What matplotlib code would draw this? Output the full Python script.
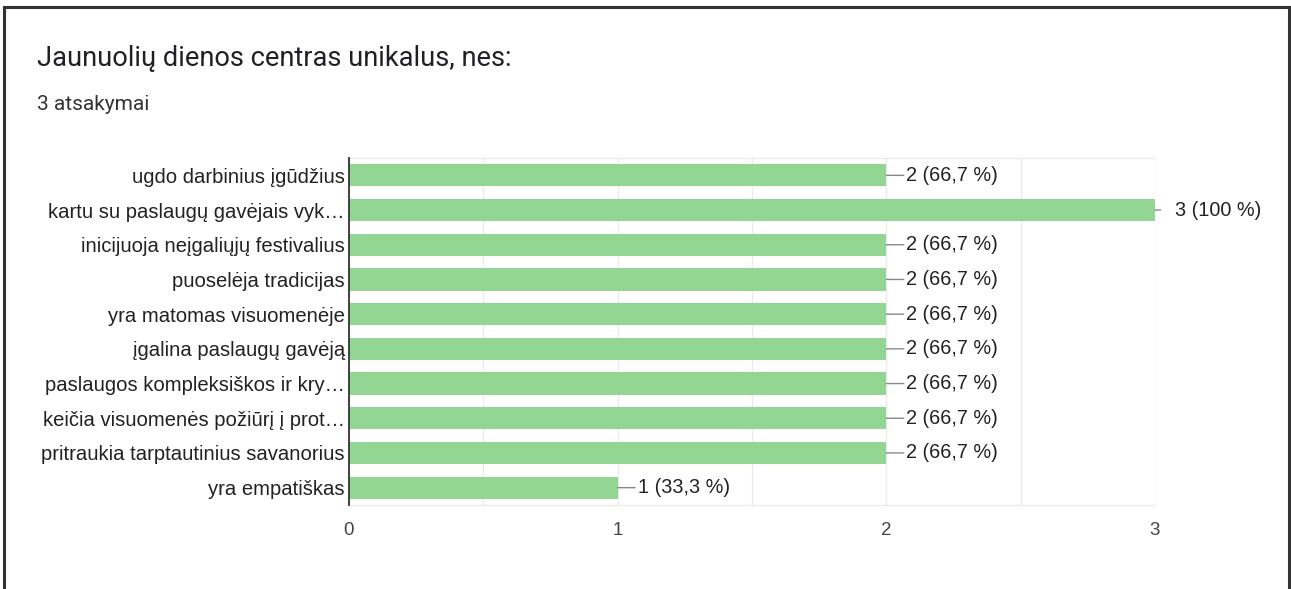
import matplotlib
matplotlib.use("Agg")
import matplotlib.pyplot as plt
from matplotlib.lines import Line2D

categories = [
    "ugdo darbinius įgūdžius",
    "kartu su paslaugų gavėjais vyk…",
    "inicijuoja neįgaliųjų festivalius",
    "puoselėja tradicijas",
    "yra matomas visuomenėje",
    "įgalina paslaugų gavėją",
    "paslaugos kompleksiškos ir kry…",
    "keičia visuomenės požiūrį į prot…",
    "pritraukia tarptautinius savanorius",
    "yra empatiškas",
]
values = [2, 3, 2, 2, 2, 2, 2, 2, 2, 1]
percent_labels = ["66,7", "100", "66,7", "66,7", "66,7", "66,7", "66,7", "66,7", "66,7", "33,3"]
x_ticks = [0, 1, 2, 3]
title = "Jaunuolių dienos centras unikalus, nes:"
subtitle = "3 atsakymai"

W, H = 1291, 589
fig = plt.figure(figsize=(W / 100, H / 100), dpi=100)
fig.patch.set_facecolor("white")

# outer frame (left, top, right)
fig.add_artist(Line2D([4 / W, 4 / W], [0, 1 - 7 / H], color="#333333", lw=2.2, transform=fig.transFigure))
fig.add_artist(Line2D([4 / W, 1290 / W], [1 - 7 / H, 1 - 7 / H], color="#333333", lw=2.2, transform=fig.transFigure))
fig.add_artist(Line2D([1289 / W, 1289 / W], [0, 1 - 7 / H], color="#333333", lw=2.2, transform=fig.transFigure))

fig.text(37 / W, 1 - 58 / H, title, fontsize=19.6, family="Roboto", color="#202124", va="center", ha="left")
fig.text(37 / W, 1 - 104 / H, subtitle, fontsize=15, family="Roboto", color="#333333", va="center", ha="left")

ax = fig.add_axes([349 / W, 1 - 505 / H, (1155 - 349) / W, (505 - 158) / H])
n = len(categories)
ypos = list(range(n))
ax.barh(ypos, values, height=0.64, color="#93d694", zorder=3)
ax.set_ylim(n - 0.5, -0.5)
ax.set_xlim(0, 3)

ax.set_yticks(ypos)
ax.set_yticklabels(categories, fontsize=14.6, family="Liberation Sans", color="#222222")
ax.set_xticks(x_ticks)
ax.set_xticklabels([str(t) for t in x_ticks], fontsize=13.5, family="Liberation Sans", color="#444444")
ax.set_xticks([0.5, 1.5, 2.5], minor=True)
ax.tick_params(axis="both", which="both", length=0)
ax.tick_params(axis="x", pad=12)
ax.tick_params(axis="y", pad=3)
ax.grid(axis="x", which="both", color="#ebebeb", lw=1, zorder=0)

for s in ["top", "bottom", "right"]:
    ax.spines[s].set_color("#ebebeb")
    ax.spines[s].set_linewidth(1)
ax.spines["right"].set_visible(False)
ax.spines["left"].set_color("#333333")
ax.spines["left"].set_linewidth(1.3)
ax.spines["left"].set_zorder(5)

for y, v, p in zip(ypos, values, percent_labels):
    if v >= 3:
        ax.annotate(f"{v} ({p} %)", xy=(v, y), xytext=(14.5, 0), textcoords="offset points",
                    ha="left", va="center", fontsize=14.3, family="Liberation Sans", color="#222222",
                    annotation_clip=False)
        ax.annotate("", xy=(v, y), xytext=(4, 0), textcoords="offset points",
                    arrowprops=dict(arrowstyle="-", color="#888888", lw=1, shrinkA=0, shrinkB=0),
                    annotation_clip=False)
    else:
        ax.annotate(f"{v} ({p} %)", xy=(v, y), xytext=(14.5, 0), textcoords="offset points",
                    ha="left", va="center", fontsize=14.3, family="Liberation Sans", color="#222222",
                    arrowprops=dict(arrowstyle="-", color="#888888", lw=1, shrinkA=0, shrinkB=0),
                    annotation_clip=False)

fig.savefig("out.png", dpi=100, facecolor="white")
